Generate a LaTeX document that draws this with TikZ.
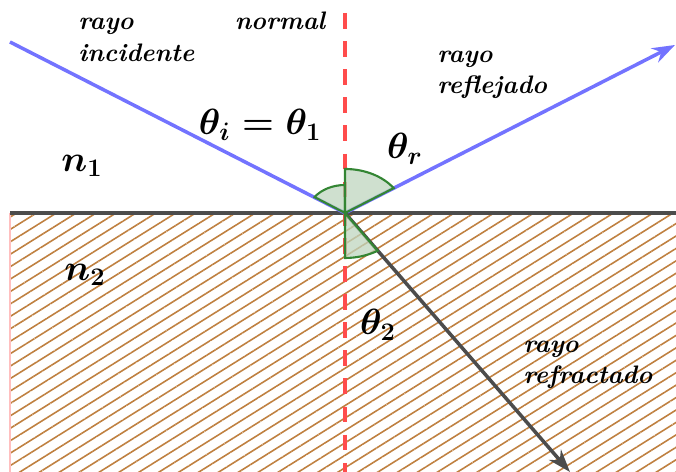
\documentclass[tikz,border=0pt]{standalone}
\usetikzlibrary{patterns.meta,arrows.meta}
\begin{document}
\begin{tikzpicture}[x=0.02cm,y=0.02cm,>={Stealth[length=13pt,width=9pt]},
    rayline/.style={line width=2pt},
    lbl/.style={font=\Large\bfseries\itshape,align=left,inner sep=0pt,anchor=west},
    mlbl/.style={font=\huge\boldmath,inner sep=0pt},
    angfill/.style={draw=green!40!black!80,line width=1.2pt,fill=green!35!black!25,fill opacity=0.75}]
    \useasboundingbox (0,0) rectangle (676,472);
    % puntos
    \coordinate (O) at (345,259);
    \coordinate (inc) at (10,430);
    \coordinate (refl) at (675,427);
    \coordinate (refr) at (570,0);
    \coordinate (ntop) at (345,459);
    \coordinate (nbot) at (345,0);
    \coordinate (sL) at (10,259);
    \coordinate (sR) at (676,259);
    % medio 2
    \fill [pattern={Lines[angle=32,distance=6pt,line width=0.9pt]},pattern color=brown] (10,0) rectangle (sR);
    \draw [red!25, line width=0.6pt] (10,0) -- (sL);
    \draw [gray!60!black, line width=1.8pt] (sL) -- (sR);
    \draw [red!70, dash pattern=on 9pt off 7pt, line width=2.2pt] (ntop) -- (nbot);
    % rayos
    \draw [rayline, blue!55!white] (inc) -- (O);
    \draw [rayline, blue!55!white, ->] (O) -- (refl);
    \draw [rayline, black!70, ->] (O) -- (refr);
    % angulos
    \filldraw [angfill] (O) -- ([shift={(0,28)}]O) arc[start angle=90, end angle=145.4, x radius=37, y radius=28] -- cycle;
    \filldraw [angfill] (O) -- ([shift={(0,44)}]O) arc[start angle=90, end angle=34.4, x radius=59, y radius=44] -- cycle;
    \filldraw [angfill] (O) -- ([shift={(0,-45)}]O) arc[start angle=270, end angle=302.9, x radius=60, y radius=45] -- cycle;
    % textos
    \node [lbl] (tinc) at (78,432) {rayo\\incidente};
    \node [lbl, anchor=center] (tnor) at (280,451) {normal};
    \node [lbl] (tref) at (437,397) {rayo\\reflejado};
    \node [lbl] (trfr) at (523,107) {rayo\\refractado};
    \node [mlbl] (thi) at (260,347) {$\theta_i=\theta_1$};
    \node [mlbl] (thr) at (405,323) {$\theta_r$};
    \node [mlbl] (th2) at (378,147) {$\theta_2$};
    \node [mlbl] (n1) at (82,306) {$n_1$};
    \node [mlbl] (n2) at (85,197) {$n_2$};
\end{tikzpicture}
\end{document}
